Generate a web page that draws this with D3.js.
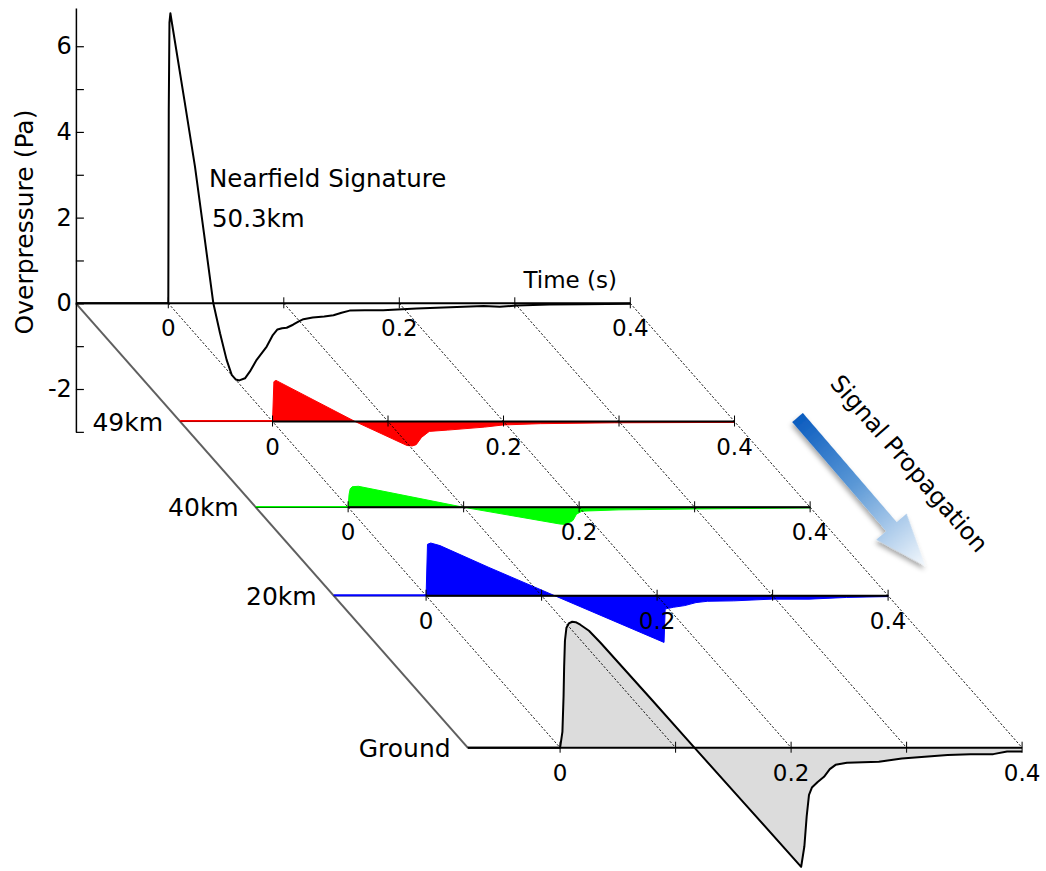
<!DOCTYPE html>
<html>
<head>
<meta charset="utf-8">
<script src="https://cdn.jsdelivr.net/npm/d3@7"></script>
<style>
  html, body { margin: 0; padding: 0; background: #ffffff; }
  svg { display: block; }
</style>
</head>
<body>
<svg id="chart" width="1046" height="871"></svg>
<script>
// ---------------- DATA ----------------
const timeTicks = [0, 0.1, 0.2, 0.3, 0.4];
const timeTickLabels = ["0", "", "0.2", "", "0.4"];
const pressureTicks = [-3, -2, -1, 0, 1, 2, 3, 4, 5, 6];
const pressureTickLabels = ["", "-2", "", "0", "", "2", "", "4", "", "6"];

const panelNames = ["Nearfield Signature", "49km", "40km", "20km", "Ground"];
const panelLabels = ["", "49km", "40km", "20km", "Ground"];
const panelDepth = [0, 0.266, 0.459, 0.658, 1.0];

// [time (s), overpressure (Pa)]
const nearfield = [
  [-0.08, 0], [0, 0], [0.0004, 4.5], [0.0010, 6.55], [0.0018, 6.77], [0.0028, 6.6],
  [0.0139, 4.75], [0.0231, 3.19], [0.0309, 1.63], [0.039, 0], [0.0448, -0.70],
  [0.0505, -1.32], [0.0549, -1.67], [0.0585, -1.78], [0.0615, -1.80], [0.0664, -1.75],
  [0.0707, -1.59], [0.0765, -1.32], [0.0852, -1.01], [0.0905, -0.74], [0.0945, -0.61],
  [0.0985, -0.58], [0.1025, -0.57], [0.108, -0.50], [0.113, -0.42], [0.117, -0.37],
  [0.125, -0.33], [0.135, -0.31], [0.143, -0.28], [0.150, -0.22], [0.157, -0.17],
  [0.170, -0.16], [0.186, -0.16], [0.215, -0.12], [0.244, -0.09], [0.273, -0.06],
  [0.287, -0.08], [0.302, -0.05], [0.330, -0.03], [0.359, -0.02], [0.4, -0.01]
];
const km49 = [
  [-0.08, 0], [0, 0], [0.0012, 0.93], [0.003, 0.96], [0.0715, 0], [0.1164, -0.56],
  [0.121, -0.57], [0.1244, -0.54], [0.129, -0.37], [0.1357, -0.23], [0.1517, -0.20],
  [0.1837, -0.13], [0.1998, -0.08], [0.232, -0.05], [0.296, -0.03], [0.4, -0.02]
];
const km40 = [
  [-0.08, 0], [0, 0], [0.0008, 0.30], [0.0018, 0.43], [0.0035, 0.48], [0.0089, 0.49],
  [0.1001, 0], [0.1833, -0.39], [0.188, -0.40], [0.1946, -0.31], [0.1977, -0.16],
  [0.2025, -0.09], [0.2345, -0.06], [0.2985, -0.04], [0.4, -0.015]
];
const km20 = [
  [-0.08, 0], [0, 0], [0.0012, 1.2], [0.004, 1.23], [0.012, 1.17], [0.0544, 0.66],
  [0.1114, 0], [0.206, -1.09], [0.207, -0.31], [0.2141, -0.27], [0.2239, -0.23],
  [0.2337, -0.16], [0.2435, -0.13], [0.2663, -0.12], [0.2989, -0.08], [0.3315, -0.08],
  [0.364, -0.04], [0.4, -0.02]
];
const ground = [
  [-0.08, 0], [0, 0], [0.002, 0.37], [0.003, 1.2], [0.0035, 1.89], [0.0042, 2.5],
  [0.0055, 2.8], [0.0075, 2.9], [0.0105, 2.94], [0.0135, 2.93], [0.0175, 2.87],
  [0.025, 2.73], [0.035, 2.45], [0.078, 1.16], [0.1157, 0.02], [0.1572, -1.23],
  [0.2087, -2.78], [0.2115, -2.3], [0.2135, -1.6], [0.2155, -1.1], [0.218, -0.93],
  [0.223, -0.80], [0.2285, -0.68], [0.2335, -0.50], [0.2385, -0.40], [0.2483, -0.35],
  [0.276, -0.33], [0.2959, -0.25], [0.3157, -0.21], [0.3355, -0.17], [0.3553, -0.15],
  [0.375, -0.15], [0.387, -0.09], [0.4, -0.09]
];
const panelSeries = [nearfield, km49, km40, km20, ground];
const panelColors = ["#000000", "#ff0000", "#00ff00", "#0000ff", "#000000"];
const panelFills = ["none", "#ff0000", "#00ff00", "#0000ff", "#dcdcdc"];

// ---------------- SCALES ----------------
const svg = d3.select("#chart");
const tStart = -0.08;
const x = d3.scaleLinear().domain([0, 0.4]).range([168.3, 630.3]);
const y = d3.scaleLinear().domain([-3, 6.89]).range([431.85, 8.1]);
const depthX = d3.scaleLinear().domain([0, 1]).range([0, 391.8]);
const depthY = d3.scaleLinear().domain([0, 1]).range([0, 444.4]);

const FONT = "'DejaVu Sans', Verdana, sans-serif";

const panels = panelNames.map((name, i) => ({
  name, label: panelLabels[i], depth: panelDepth[i], data: panelSeries[i],
  color: panelColors[i], fill: panelFills[i],
  dx: depthX(panelDepth[i]), dy: depthY(panelDepth[i])
}));

// ---------------- LAYERS ----------------
const gFill = svg.append("g");
const gDots = svg.append("g");
const gLines = svg.append("g");
const gText = svg.append("g");

// fills
panels.forEach(p => {
  if (p.fill === "none") return;
  const area = d3.area()
    .x(d => x(d[0]) + p.dx)
    .y0(y(0) + p.dy)
    .y1(d => y(d[1]) + p.dy)
    .curve(d3.curveLinear);
  gFill.append("path").datum(p.data)
    .attr("d", area)
    .attr("fill", p.fill)
    .attr("stroke", p.color === "#000000" ? "none" : p.color)
    .attr("stroke-width", 1)
    .attr("stroke-linejoin", "round");
});

// dotted propagation lines
const first = panels[0], last = panels[panels.length - 1];
timeTicks.forEach(t => {
  gDots.append("line")
    .attr("x1", x(t) + first.dx).attr("y1", y(0) + first.dy)
    .attr("x2", x(t) + last.dx).attr("y2", y(0) + last.dy)
    .attr("stroke", "#000").attr("stroke-width", 1)
    .attr("stroke-dasharray", "2,2");
});

// diagonal distance line at t = tStart
gLines.append("line")
  .attr("x1", x(tStart) + first.dx).attr("y1", y(0) + first.dy)
  .attr("x2", x(tStart) + last.dx).attr("y2", y(0) + last.dy)
  .attr("stroke", "#5f5f5f").attr("stroke-width", 2);

// y axis
const yAxis = d3.axisLeft(y)
  .tickValues(pressureTicks)
  .tickSizeInner(-8).tickSizeOuter(0).tickPadding(4)
  .tickFormat((d, i) => pressureTickLabels[i]);
const gy = gLines.append("g")
  .attr("transform", `translate(${x(tStart)},0)`)
  .call(yAxis);
gy.select(".domain").attr("stroke", "#000").attr("stroke-width", 1.5);
gy.selectAll(".tick line").attr("stroke", "#000").attr("stroke-width", 1.2);
gy.selectAll(".tick text")
  .attr("font-family", FONT).attr("font-size", 24).attr("fill", "#000");

// baselines, signals, ticks
panels.forEach((p, i) => {
  const y0 = y(0) + p.dy;
  const colored = p.color !== "#000000";
  gLines.append("line")
    .attr("x1", x(tStart) + p.dx).attr("x2", x(0.4) + p.dx)
    .attr("y1", y0).attr("y2", y0)
    .attr("stroke", "#000").attr("stroke-width", colored ? 1.2 : 2);

  const line = d3.line()
    .x(d => x(d[0]) + p.dx)
    .y(d => y(d[1]) + p.dy)
    .curve(d3.curveLinear);
  if (colored) {
    gLines.append("path").datum(p.data.filter(d => d[0] <= 0))
      .attr("d", line).attr("fill", "none")
      .attr("stroke", p.color).attr("stroke-width", 1.6)
      .attr("transform", "translate(0,-0.6)");
    gLines.append("line")
      .attr("x1", x(0) + p.dx).attr("x2", x(0.4) + p.dx)
      .attr("y1", y0).attr("y2", y0)
      .attr("stroke", "#000").attr("stroke-width", 2);
  } else {
    gLines.append("path").datum(p.data)
      .attr("d", line).attr("fill", "none")
      .attr("stroke", "#000").attr("stroke-width", 2)
      .attr("stroke-linejoin", "round");
  }

  timeTicks.forEach((t, k) => {
    gLines.append("line")
      .attr("x1", x(t) + p.dx).attr("x2", x(t) + p.dx)
      .attr("y1", y0 - 6).attr("y2", y0 + 5)
      .attr("stroke", "#000").attr("stroke-width", 1);
    if (timeTickLabels[k]) {
      gText.append("text")
        .attr("x", x(t) + p.dx).attr("y", y0 + 33)
        .attr("text-anchor", "middle")
        .attr("font-family", FONT).attr("font-size", 23)
        .text(timeTickLabels[k]);
    }
  });

  if (p.label) {
    gText.append("text")
      .attr("x", x(tStart) + p.dx - 17).attr("y", y0 + 9)
      .attr("text-anchor", "end")
      .attr("font-family", FONT).attr("font-size", 25)
      .text(p.label);
  }
});

// axis titles / annotations
gText.append("text")
  .attr("x", 617).attr("y", 288)
  .attr("text-anchor", "end")
  .attr("font-family", FONT).attr("font-size", 23)
  .text("Time (s)");

gText.append("text")
  .attr("transform", "translate(33,222) rotate(-90)")
  .attr("text-anchor", "middle")
  .attr("font-family", FONT).attr("font-size", 25)
  .text("Overpressure (Pa)");

gText.append("text")
  .attr("x", 209).attr("y", 187)
  .attr("font-family", FONT).attr("font-size", 24.5)
  .text(panelNames[0]);
gText.append("text")
  .attr("x", 212).attr("y", 227)
  .attr("font-family", FONT).attr("font-size", 24.5)
  .text("50.3km");

// Signal propagation arrow
const defs = svg.append("defs");
const L = 196;
const grad = defs.append("linearGradient").attr("id", "arrowGrad")
  .attr("gradientUnits", "userSpaceOnUse")
  .attr("x1", 0).attr("y1", 0).attr("x2", L).attr("y2", 0);
grad.append("stop").attr("offset", "0%").attr("stop-color", "#0b5cbf");
grad.append("stop").attr("offset", "45%").attr("stop-color", "#5b98d6");
grad.append("stop").attr("offset", "100%").attr("stop-color", "#f5f9fd");
const shadow = defs.append("filter").attr("id", "arrowShadow")
  .attr("x", "-20%").attr("y", "-20%").attr("width", "140%").attr("height", "140%");
shadow.append("feDropShadow").attr("dx", 2).attr("dy", 3).attr("stdDeviation", 2.5)
  .attr("flood-color", "#000").attr("flood-opacity", 0.35);

const hw = 7, headW = 20, headL = 52;
const arrowPts = [[0, -hw], [L - headL, -hw], [L - headL, -headW], [L, 0],
                  [L - headL, headW], [L - headL, hw], [0, hw]];
svg.append("g")
  .attr("transform", "translate(797.5,417.5) rotate(49.3)")
  .append("path")
  .attr("d", d3.line()(arrowPts) + "Z")
  .attr("fill", "url(#arrowGrad)")
  .attr("filter", "url(#arrowShadow)");

gText.append("text")
  .attr("transform", "translate(903,469) rotate(49)")
  .attr("text-anchor", "middle")
  .attr("font-family", FONT).attr("font-size", 24)
  .text("Signal Propagation");
</script>
</body>
</html>
